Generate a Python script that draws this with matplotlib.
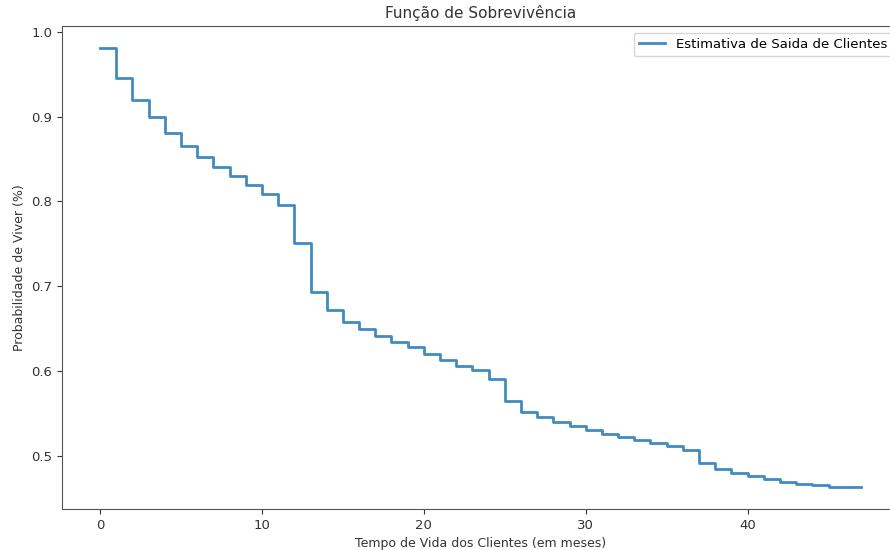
import matplotlib
matplotlib.use("Agg")
import matplotlib.pyplot as plt

months = list(range(0, 48))
survival = [0.981, 0.946, 0.920, 0.899, 0.881, 0.865, 0.852, 0.840, 0.830, 0.819,
            0.809, 0.796, 0.751, 0.693, 0.672, 0.658, 0.649, 0.641, 0.634, 0.628,
            0.620, 0.613, 0.606, 0.601, 0.590, 0.564, 0.552, 0.546, 0.540, 0.535,
            0.530, 0.526, 0.522, 0.519, 0.515, 0.511, 0.507, 0.491, 0.484, 0.479,
            0.476, 0.472, 0.469, 0.467, 0.465, 0.463, 0.463, 0.463]

fig = plt.figure(figsize=(8.9, 5.5), dpi=100)
ax = fig.add_axes([62/890, 1-509/550, (899-62)/890, (509-26)/550])
ax.plot(months, survival, drawstyle="steps-post", color="#1f77b4", lw=2,
        alpha=0.85, label="Estimativa de Saida de Clientes")
ax.set_title("Função de Sobrevivência", fontsize=11, color="#333333")
ax.set_xlabel("Tempo de Vida dos Clientes (em meses)", fontsize=9, color="#333333")
ax.set_ylabel("Probabilidade de Viver (%)", fontsize=9, color="#333333")
ax.set_xticks([0, 10, 20, 30, 40])
ax.set_yticks([0.5, 0.6, 0.7, 0.8, 0.9, 1.0])
ax.tick_params(labelsize=9.5, colors="#333333")
for s in ax.spines.values():
    s.set_color("#555555")
ax.legend(loc="upper right", fontsize=9.5)
fig.savefig("out.png", dpi=100)
